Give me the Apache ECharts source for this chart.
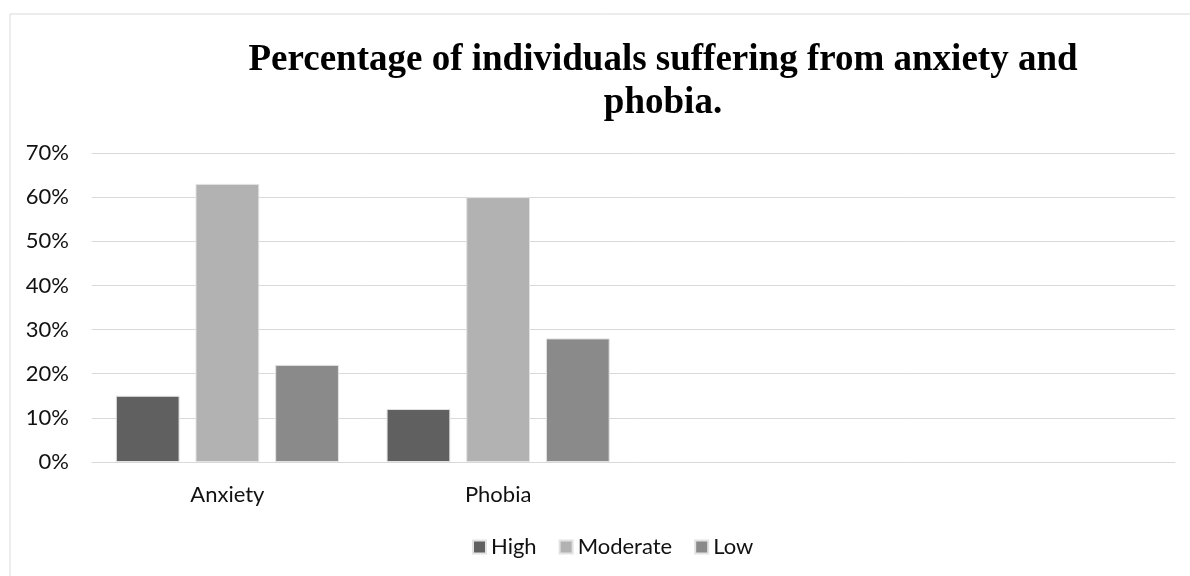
<!DOCTYPE html>
<html>
<head>
<meta charset="utf-8">
<title>Percentage of individuals suffering from anxiety and phobia</title>
<script src="https://cdn.jsdelivr.net/npm/echarts@6/dist/echarts.min.js"></script>
<style>
  html, body { margin: 0; padding: 0; background: #ffffff; }
  #chart { width: 1190px; height: 576px; }
</style>
</head>
<body>
<div id="chart"></div>
<script>
// Categories on the x axis (two trailing slots are left empty)
const categories = ['Anxiety', 'Phobia', '', ''];
// Severity levels, in percent
const highValues = [15, 12];
const moderateValues = [63, 60];
const lowValues = [22, 28];
const seriesNames = ['High', 'Moderate', 'Low'];
const seriesColors = ['#606060', '#b2b2b2', '#8a8a8a'];
const titleText = 'Percentage of individuals suffering from anxiety and\nphobia.';

const labelFont = 'Lato, "Open Sans", sans-serif';

const chart = echarts.init(document.getElementById('chart'), null, { renderer: 'canvas' });

function barSeries(name, data, color) {
  return {
    name: name,
    type: 'bar',
    data: data,
    barGap: '25%',
    barCategoryGap: '17.6%',
    itemStyle: { color: color, borderColor: '#e2e2e2', borderWidth: 1 },
    emphasis: { disabled: true }
  };
}

chart.setOption({
  animation: false,
  backgroundColor: '#ffffff',
  graphic: [{
    type: 'rect',
    shape: { x: 10, y: 14, width: 1300, height: 700 },
    style: { fill: 'none', stroke: '#d9d9d9', lineWidth: 1 },
    silent: true,
    z: -1
  }],
  title: {
    text: titleText,
    left: 663,
    top: 39,
    textAlign: 'center',
    padding: 0,
    textStyle: {
      fontFamily: '"Liberation Serif", "Times New Roman", serif',
      fontWeight: 'bold',
      fontSize: 37,
      lineHeight: 43,
      color: '#000000'
    }
  },
  legend: {
    data: seriesNames,
    left: 472,
    top: 536,
    padding: 0,
    itemWidth: 13,
    itemHeight: 13,
    itemGap: 22,
    icon: 'rect',
    textStyle: { fontFamily: labelFont, fontSize: 22, color: '#111111' },
    selectedMode: false
  },
  grid: { left: 92, right: 15, top: 153, bottom: 114, containLabel: false },
  xAxis: {
    type: 'category',
    data: categories,
    axisLine: { show: true, lineStyle: { color: '#d9d9d9', width: 1 } },
    axisTick: { show: false },
    axisLabel: { fontFamily: labelFont, fontSize: 22, color: '#111111', margin: 22 }
  },
  yAxis: {
    type: 'value',
    min: 0,
    max: 70,
    interval: 10,
    axisLine: { show: false },
    axisTick: { show: false },
    splitLine: { lineStyle: { color: '#d9d9d9', width: 1 } },
    axisLabel: {
      fontFamily: labelFont,
      fontSize: 22,
      color: '#111111',
      margin: 23,
      formatter: '{value}%'
    }
  },
  series: [
    barSeries(seriesNames[0], highValues, seriesColors[0]),
    barSeries(seriesNames[1], moderateValues, seriesColors[1]),
    barSeries(seriesNames[2], lowValues, seriesColors[2])
  ]
});
</script>
</body>
</html>
